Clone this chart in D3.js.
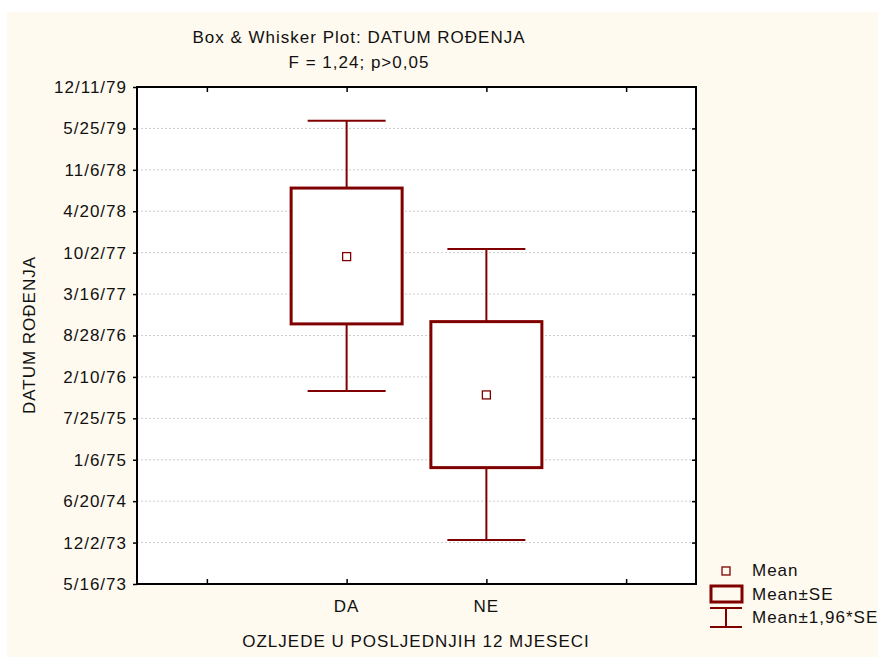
<!DOCTYPE html>
<html lang="en">
<head>
<meta charset="UTF-8">
<title>Box & Whisker Plot</title>
<script src="https://d3js.org/d3.v7.min.js"></script>
<style>
  body { margin: 0; background: #fff; }
  text { font-family: "Liberation Sans", Arial, sans-serif; font-size: 17px; fill: #111; letter-spacing: 1px; }
</style>
</head>
<body>
<svg id="chart" width="878" height="657"></svg>
<script>
// values
const categories = ["DA", "NE"];
const means  = ["1977-09-13", "1975-11-15"];
const seLow  = ["1976-10-23", "1974-11-29"];
const seHigh = ["1978-08-10", "1976-11-03"];
const ciLow  = ["1975-12-04", "1973-12-14"];
const ciHigh = ["1979-07-01", "1977-10-20"];
const yTickLabels = ["5/16/73", "12/2/73", "6/20/74", "1/6/75", "7/25/75", "2/10/76", "8/28/76",
                     "3/16/77", "10/2/77", "4/20/78", "11/6/78", "5/25/79", "12/11/79"];
const xTickLabels = ["", "DA", "NE", ""];
const legendLabels = ["Mean", "Mean\u00b1SE", "Mean\u00b11,96*SE"];

const red = "#800000";
const parseDate = d3.utcParse("%Y-%m-%d");
const parseTick = d3.utcParse("%m/%d/%y");
const yTicks = yTickLabels.map(parseTick);

const svg = d3.select("#chart");
const plotL = 137, plotR = 696, plotT = 87, plotB = 584;

// cream background
svg.append("rect").attr("x", 7).attr("y", 12).attr("width", 871).attr("height", 645).attr("fill", "#fffaef");
svg.append("rect").attr("x", plotL).attr("y", plotT).attr("width", plotR - plotL).attr("height", plotB - plotT).attr("fill", "#fff");

const x = d3.scaleLinear().domain([0, 4]).range([plotL, plotR]);
const y = d3.scaleUtc().domain([yTicks[0], yTicks[yTicks.length - 1]]).range([plotB, plotT]);
const xPos = [0.5, 1.5, 2.5, 3.5];

// grid lines
svg.append("g").selectAll("line")
    .data(yTicks.slice(1, -1))
    .join("line")
    .attr("x1", plotL).attr("x2", plotR)
    .attr("y1", d => y(d)).attr("y2", d => y(d))
    .attr("stroke", "#cccccc").attr("stroke-dasharray", "2,2");

// y axis
const yAxis = d3.axisLeft(y).tickValues(yTicks).tickSize(4).tickPadding(6)
    .tickFormat((d, i) => yTickLabels[i]);
const gy = svg.append("g").attr("transform", `translate(${plotL},0)`).call(yAxis);
gy.select(".domain").remove();
gy.selectAll(".tick line").attr("stroke", "#000").attr("stroke-width", 1.5);
gy.selectAll(".tick text").style("font-size", "17px").attr("fill", "#111")
    .style("font-family", "'Liberation Sans', Arial, sans-serif");

// right ticks (inside)
const gyr = svg.append("g").attr("transform", `translate(${plotR},0)`)
    .call(d3.axisLeft(y).tickValues(yTicks.slice(1, -1)).tickSize(4).tickFormat(""));
gyr.select(".domain").remove();
gyr.selectAll(".tick line").attr("stroke", "#000").attr("stroke-width", 1.5);

// bottom axis: ticks inside, labels below
const gx = svg.append("g").attr("transform", `translate(0,${plotB})`)
    .call(d3.axisTop(x).tickValues(xPos).tickSize(5).tickFormat(""));
gx.select(".domain").remove();
gx.selectAll(".tick line").attr("stroke", "#000").attr("stroke-width", 1.5);
svg.append("g").selectAll("text")
    .data(xPos)
    .join("text")
    .attr("x", d => x(d)).attr("y", 612)
    .attr("text-anchor", "middle")
    .text((d, i) => xTickLabels[i]);

// top ticks inside
const gxt = svg.append("g").attr("transform", `translate(0,${plotT})`)
    .call(d3.axisBottom(x).tickValues(xPos).tickSize(5).tickFormat(""));
gxt.select(".domain").remove();
gxt.selectAll(".tick line").attr("stroke", "#000").attr("stroke-width", 1.5);

// boxes and whiskers
const boxW = 111, capW = 78;
const groups = svg.append("g").selectAll("g")
    .data(categories)
    .join("g");

groups.append("line")
    .attr("x1", (d, i) => x(xPos[i + 1])).attr("x2", (d, i) => x(xPos[i + 1]))
    .attr("y1", (d, i) => y(parseDate(ciHigh[i]))).attr("y2", (d, i) => y(parseDate(ciLow[i])))
    .attr("stroke", red).attr("stroke-width", 2);
groups.selectAll("line.cap")
    .data((d, i) => [ciLow[i], ciHigh[i]].map(v => ({ i, v })))
    .join("line")
    .attr("class", "cap")
    .attr("x1", d => x(xPos[d.i + 1]) - capW / 2).attr("x2", d => x(xPos[d.i + 1]) + capW / 2)
    .attr("y1", d => y(parseDate(d.v))).attr("y2", d => y(parseDate(d.v)))
    .attr("stroke", red).attr("stroke-width", 2);
groups.append("rect")
    .attr("x", (d, i) => x(xPos[i + 1]) - boxW / 2)
    .attr("width", boxW)
    .attr("y", (d, i) => y(parseDate(seHigh[i])))
    .attr("height", (d, i) => y(parseDate(seLow[i])) - y(parseDate(seHigh[i])))
    .attr("fill", "#fff").attr("stroke", red).attr("stroke-width", 3);
groups.append("rect")
    .attr("x", (d, i) => x(xPos[i + 1]) - 4)
    .attr("y", (d, i) => y(parseDate(means[i])) - 4)
    .attr("width", 8).attr("height", 8)
    .attr("fill", "#fff").attr("stroke", red).attr("stroke-width", 1.3);

// plot frame
svg.append("rect").attr("x", plotL).attr("y", plotT).attr("width", plotR - plotL).attr("height", plotB - plotT)
    .attr("fill", "none").attr("stroke", "#000").attr("stroke-width", 2);

// titles
svg.append("text").attr("x", 359).attr("y", 43).attr("text-anchor", "middle")
    .text("Box & Whisker Plot: DATUM RO\u0110ENJA");
svg.append("text").attr("x", 359).attr("y", 68).attr("text-anchor", "middle")
    .text("F = 1,24; p>0,05");
svg.append("text").attr("x", 416).attr("y", 647).attr("text-anchor", "middle")
    .text("OZLJEDE U POSLJEDNJIH 12 MJESECI");
svg.append("text").attr("transform", "translate(35,335) rotate(-90)").attr("text-anchor", "middle")
    .text("DATUM RO\u0110ENJA");

// legend
const lg = svg.append("g");
lg.append("rect").attr("x", 722).attr("y", 567).attr("width", 8).attr("height", 8)
    .attr("fill", "none").attr("stroke", red).attr("stroke-width", 1.3);
lg.append("rect").attr("x", 711).attr("y", 586).attr("width", 31).attr("height", 16)
    .attr("fill", "none").attr("stroke", red).attr("stroke-width", 3);
lg.append("line").attr("x1", 710).attr("x2", 742).attr("y1", 608).attr("y2", 608).attr("stroke", red).attr("stroke-width", 2);
lg.append("line").attr("x1", 710).attr("x2", 742).attr("y1", 627).attr("y2", 627).attr("stroke", red).attr("stroke-width", 2);
lg.append("line").attr("x1", 726).attr("x2", 726).attr("y1", 608).attr("y2", 627).attr("stroke", red).attr("stroke-width", 2);
lg.selectAll("text")
    .data(legendLabels)
    .join("text")
    .attr("x", 752).attr("y", (d, i) => [576, 600, 623][i])
    .text(d => d);
</script>
</body>
</html>
